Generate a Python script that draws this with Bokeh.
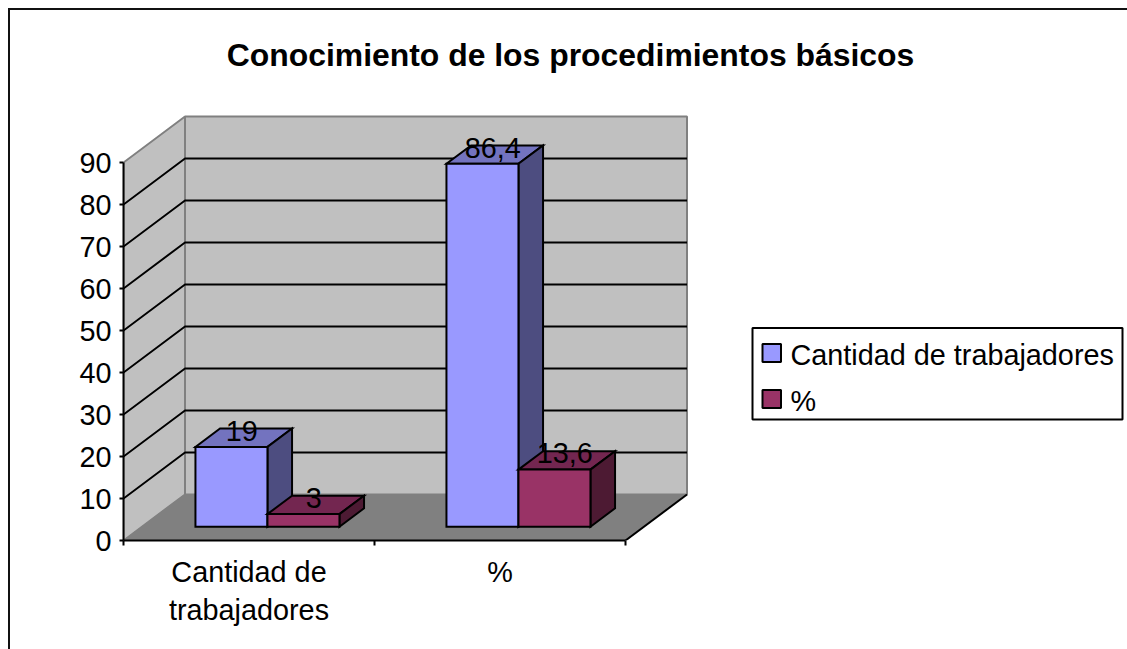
from bokeh.plotting import figure
from bokeh.embed import file_html
from bokeh.resources import INLINE
from bokeh.core.properties import value
from bokeh.models import Range1d, FixedTicker, ColumnDataSource

categories = ["Cantidad de\ntrabajadores", "%"]
series_names = ["Cantidad de trabajadores", "%"]
cantidad = [19, 86.4]
porcentaje = [3, 13.6]
value_labels = [["19", "86,4"], ["3", "13,6"]]
y_ticks = [0, 10, 20, 30, 40, 50, 60, 70, 80, 90]
title = "Conocimiento de los procedimientos básicos"

FONT = "Liberation Sans"
SIZE = "28.8px"
W, H = 1117, 639
LEFT, BOTTOM = 113, 111       # canvas px to plot frame
CAT_PX = 251.0
VAL_PX = 4.2
frame_w = W + 2 - LEFT        # the canvas takes the host's outer size, border included
frame_h = H + 2 - BOTTOM

p = figure(width=W, height=H, output_backend="svg", toolbar_location=None,
           margin=(8, 0, 0, 8),
           styles={"border-top": "2px solid #111", "border-left": "2px solid #111", "box-sizing": "content-box"},
           min_border_left=LEFT, min_border_bottom=BOTTOM, min_border_top=0, min_border_right=0,
           x_range=Range1d(0, frame_w / CAT_PX), y_range=Range1d(0, frame_h / VAL_PX))
p.grid.visible = False
p.outline_line_color = None
p.background_fill_color = "white"

DX = 61.5 / CAT_PX
DY = 46.0 / VAL_PX
def proj(c, v, d):
    return c + d * DX, v + d * DY
def poly(pts, **kw):
    p.patch([a for a, _ in pts], [b for _, b in pts], **kw)

# axes
ya = p.yaxis[0]
ya.bounds = (0, 90)
ya.ticker = FixedTicker(ticks=y_ticks)
ya.major_tick_in = 0
ya.major_tick_out = 4
ya.minor_tick_line_color = None
ya.axis_line_width = 2
ya.major_tick_line_width = 2
ya.major_label_text_font = FONT
ya.major_label_text_font_size = SIZE
ya.major_label_text_color = "black"
ya.major_label_standoff = 8

xa = p.xaxis[0]
xa.bounds = (0, 2)
xa.ticker = FixedTicker(ticks=[0.5, 1.5], minor_ticks=[0, 1, 2])
xa.major_label_overrides = {0.5: categories[0], 1.5: categories[1]}
xa.major_tick_in = 0
xa.major_tick_out = 0
xa.minor_tick_in = 0
xa.minor_tick_out = 5
xa.minor_tick_line_width = 2
xa.minor_tick_line_color = "black"
xa.axis_line_width = 2
xa.major_label_text_font = FONT
xa.major_label_text_font_size = SIZE
xa.major_label_text_color = "black"
xa.major_label_standoff = 10

# walls
GRAY = "#808080"
poly([proj(0, 0, 1), proj(2, 0, 1), proj(2, 90, 1), proj(0, 90, 1)], fill_color="#C0C0C0", line_color=GRAY, line_width=2)
poly([proj(0, 0, 0), proj(0, 0, 1), proj(0, 90, 1), proj(0, 90, 0)], fill_color="#C0C0C0", line_color=GRAY, line_width=2)
poly([proj(0, 0, 0), proj(2, 0, 0), proj(2, 0, 1), proj(0, 0, 1)], fill_color=GRAY, line_color=GRAY, line_width=1)
a, b = proj(2, 0, 0), proj(2, 0, 1)
p.line([a[0], b[0]], [a[1], b[1]], line_color="black", line_width=2)
for t in y_ticks[1:-1]:
    a, b, c = proj(0, t, 0), proj(0, t, 1), proj(2, t, 1)
    p.line([a[0], b[0], c[0]], [a[1], b[1], c[1]], line_color="black", line_width=2)

# bars
GAP = 53.5 / CAT_PX
BAR = 72.0 / CAT_PX
D0, D1 = 0.30, 0.70
def bar(x0, x1, v, front, top, side):
    poly([proj(x0, v, D0), proj(x1, v, D0), proj(x1, v, D1), proj(x0, v, D1)],
         fill_color=top, line_color="black", line_width=2, line_join="miter")
    poly([proj(x1, 0, D0), proj(x1, 0, D1), proj(x1, v, D1), proj(x1, v, D0)],
         fill_color=side, line_color="black", line_width=2, line_join="miter")
    poly([proj(x0, 0, D0), proj(x1, 0, D0), proj(x1, v, D0), proj(x0, v, D0)],
         fill_color=front, line_color="black", line_width=2, line_join="miter")

BLUE = ("#9999FF", "#7373BF", "#4D4D80")
RED = ("#993366", "#732650", "#4D1A33")
lab_x, lab_y, lab_t = [], [], []
for i in range(2):
    x0 = i + GAP
    bar(x0, x0 + BAR, cantidad[i], *BLUE)
    bar(x0 + BAR, x0 + 2 * BAR, porcentaje[i], *RED)
    for j, v in enumerate((cantidad[i], porcentaje[i])):
        lx_, ly_ = proj(x0 + BAR * (j + 0.5), v, 0.5)
        lab_x.append(lx_); lab_y.append(ly_); lab_t.append(value_labels[j][i])

src = ColumnDataSource(dict(x=lab_x, y=lab_y, t=lab_t))
p.text("x", "y", text="t", source=src, text_font=value(FONT), text_font_size=value(SIZE),
       text_color="black", text_align="center", text_baseline="middle", x_offset=-2, y_offset=-7)

def lx(px): return (px - 123) / CAT_PX
def ly(py): return (540.0 - py) / VAL_PX

p.text([lx(570)], [ly(54)], text=[title], text_font=value(FONT),
       text_font_size=value("31.9px"), text_font_style="bold", text_align="center", text_baseline="middle", text_color="black")

poly([(lx(752), ly(327.5)), (lx(1122), ly(327.5)), (lx(1122), ly(419)), (lx(752), ly(419))],
     fill_color="white", line_color="black", line_width=2)
for i, (name, col) in enumerate(zip(series_names, (BLUE[0], RED[0]))):
    yc = 352.5 + i * 46
    poly([(lx(762), ly(yc - 9)), (lx(780.5), ly(yc - 9)), (lx(780.5), ly(yc + 9)), (lx(762), ly(yc + 9))],
         fill_color=col, line_color="black", line_width=2)
    p.text([lx(790)], [ly(yc + 1.5)], text=[name], text_font=value(FONT), text_font_size=value(SIZE),
           text_baseline="middle", text_align="left", text_color="black")

open("out.html", "w").write(file_html(p, INLINE))
